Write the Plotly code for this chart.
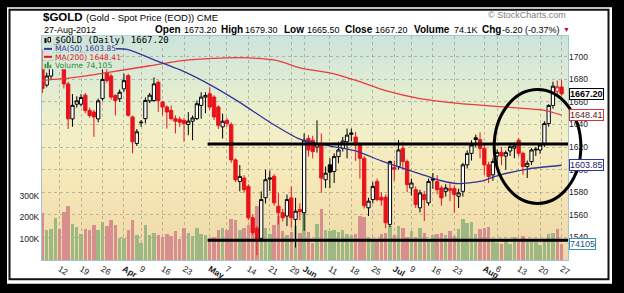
import pandas as pd
import plotly.graph_objects as go

# ---------------- data ----------------
HOLIDAYS = ["2012-04-06", "2012-05-28", "2012-07-04"]
trade_dates = [d for d in pd.bdate_range("2012-03-06", "2012-08-27")
               if d.strftime("%Y-%m-%d") not in HOLIDAYS]

opens = [1705, 1675, 1683, 1698, 1711, 1700, 1676, 1645, 1658, 1658,
         1666, 1652.5, 1651, 1645, 1663, 1686, 1683, 1665.7, 1662.8, 1671.6,
         1683.3, 1646.7, 1623.2, 1641.5, 1645.2, 1661, 1661.3, 1677.4, 1659.9, 1655.5,
         1652.5, 1645.2, 1644.6, 1643.7, 1640, 1642.9, 1645.2, 1657, 1664.3, 1667.2,
         1664.3, 1655.5, 1637.9, 1643.7, 1639.9, 1608.6, 1589.5, 1592.5, 1585.1, 1557.3,
         1548, 1539, 1575, 1591.5, 1594, 1567.5, 1561.7, 1558.8, 1574.9, 1555.8,
         1564.6, 1561.7, 1627.6, 1626, 1620, 1621.7, 1591, 1604.2, 1598.3, 1611.5,
         1618.8, 1624.7, 1632.5, 1628.8, 1621.8, 1610, 1566.1, 1573.4, 1589.5, 1575.5,
         1575.5, 1551.4, 1601.8, 1602.7, 1618.8, 1607.1, 1583.7, 1582.2, 1566.1, 1577.8,
         1570.5, 1591.9, 1589.5, 1583.7, 1580.7, 1581.3, 1583.1, 1576.3, 1580.7, 1604.2,
         1614.4, 1628.2, 1626.7, 1618.8, 1604.2, 1595.4, 1612, 1615.3, 1612, 1616.5,
         1619, 1626, 1614.4, 1602.7, 1607.1, 1617.4, 1617.4, 1623.2, 1640.8, 1656.9,
         1669.5, 1673.2]
highs = [1707, 1686, 1700, 1715, 1713, 1702, 1678, 1667, 1665, 1667,
         1668, 1655, 1653, 1663, 1689, 1691, 1685, 1667, 1671, 1685,
         1685, 1648, 1636, 1644, 1664, 1668, 1681.8, 1679, 1661, 1657,
         1657, 1648.1, 1647, 1646, 1651, 1648, 1661.3, 1668.6, 1668.6, 1673,
         1666, 1657, 1649.6, 1646, 1642, 1610, 1604, 1595, 1587, 1560,
         1550, 1580.7, 1599.8, 1599, 1596, 1579.3, 1565, 1577.8, 1585.1, 1574.9,
         1570, 1632, 1630.6, 1630, 1643.7, 1632, 1602.7, 1610, 1614.4, 1624.7,
         1629, 1636.4, 1636.4, 1633.5, 1624, 1612, 1575, 1589, 1592, 1580,
         1578, 1608, 1608, 1626.2, 1624.7, 1609, 1592, 1585, 1582, 1581,
         1592, 1597, 1595, 1586, 1587, 1588, 1586, 1583, 1606, 1617,
         1626, 1631, 1633, 1621.8, 1607, 1610, 1618, 1620, 1617, 1624,
         1624, 1628, 1616, 1608, 1619, 1620, 1623, 1643, 1658, 1678,
         1679, 1679.3]
lows = [1668, 1673, 1680, 1692, 1695, 1672, 1636, 1638, 1655, 1656,
        1650, 1646, 1629, 1642, 1661, 1677, 1662, 1648, 1660, 1669,
        1647, 1614.4, 1621, 1638, 1641, 1659, 1659.9, 1651.1, 1648.1, 1636.4,
        1643.7, 1632, 1637.9, 1624.7, 1630.5, 1626, 1644, 1645.2, 1650, 1653,
        1644, 1636, 1627.6, 1638, 1606, 1589, 1580.7, 1579.3, 1555, 1542,
        1524, 1536, 1570, 1581, 1568, 1551.4, 1554, 1549.9, 1548.5, 1530.9,
        1555, 1545.6, 1611.5, 1610, 1615, 1579.3, 1583.7, 1583.7, 1588.1, 1605.6,
        1616, 1610, 1625, 1607.7, 1592, 1565.5, 1558.8, 1570, 1572, 1568,
        1548, 1549, 1590, 1600, 1600, 1580, 1577, 1566, 1562, 1554.4,
        1568, 1583, 1578, 1568, 1576, 1572, 1561.7, 1566, 1576, 1601,
        1608, 1620, 1610, 1595.4, 1588, 1590, 1605, 1604, 1600, 1612,
        1610, 1612, 1595.4, 1592.5, 1604, 1612, 1614, 1620, 1638, 1654,
        1666, 1665.5]
closes = [1672, 1683, 1698, 1711, 1700, 1676, 1645, 1657, 1661, 1664,
          1652.5, 1648, 1646.7, 1661, 1680, 1679, 1664.3, 1661.3, 1668.6, 1678.9,
          1648.1, 1624.7, 1633.5, 1642, 1661.3, 1666, 1676, 1661.3, 1655.5, 1651.1,
          1645.2, 1642.9, 1642, 1640.8, 1643, 1645.8, 1658.4, 1664.3, 1665.7, 1655.5,
          1646.7, 1639.3, 1642.9, 1640.8, 1608.6, 1591, 1594, 1582.2, 1557.3, 1544.1,
          1538, 1573.4, 1591, 1592.5, 1570.5, 1561.7, 1557.3, 1573.4, 1557.3, 1563.1,
          1562.5, 1626, 1617.4, 1616, 1623, 1592.5, 1596.8, 1597.7, 1611.5, 1617.4,
          1625.3, 1630.6, 1631.4, 1621.8, 1610, 1568, 1572, 1585.1, 1573.4, 1573,
          1552.9, 1607.1, 1600.4, 1617.4, 1607.1, 1586.6, 1588.1, 1569, 1579.3, 1573.4,
          1589.5, 1590.7, 1582.2, 1574.9, 1583.7, 1583.1, 1577.8, 1579.3, 1604.2, 1614.4,
          1621.8, 1626.7, 1618.8, 1604.2, 1593.9, 1607.1, 1615.3, 1612, 1615, 1620.3,
          1621, 1614.4, 1602.7, 1605.6, 1617.4, 1618, 1621.8, 1640.8, 1656.9, 1674,
          1673.4, 1667.2]
volume_k = [220, 142, 146, 196, 146, 223, 254, 170, 154, 119,
            146, 139, 162, 139, 177, 159, 185, 165, 103, 103,
            142, 185, 116, 77, 165, 118, 125, 118, 108, 120,
            112, 135, 100, 150, 128, 110, 150, 120, 118, 104,
            108, 138, 150, 140, 190, 185, 140, 150, 165, 200,
            250, 170, 150, 120, 165, 205, 135, 115, 130, 160,
            128, 285, 130, 78, 166, 239, 140, 135, 140, 131,
            138, 122, 115, 120, 205, 200, 105, 97, 100, 120,
            128, 160, 118, 158, 151, 105, 135, 105, 150, 128,
            100, 116, 120, 128, 118, 135, 113, 143, 189, 171,
            177, 120, 145, 151, 155, 92, 80, 75, 90, 75,
            105, 85, 110, 82, 97, 85, 72, 92, 120, 128,
            146, 74.105]

ma50_dates = ["2012-03-06", "2012-03-16", "2012-03-28", "2012-04-03", "2012-04-12",
              "2012-04-20", "2012-05-01", "2012-05-10", "2012-05-21", "2012-05-31",
              "2012-06-11", "2012-06-19", "2012-06-27", "2012-07-03", "2012-07-11",
              "2012-07-18", "2012-07-24", "2012-07-31", "2012-08-06", "2012-08-15",
              "2012-08-27"]
ma50_vals = [1697, 1703, 1707, 1706.5, 1697.4, 1688.6, 1675.4, 1659.6, 1642, 1627,
             1620.9, 1616.5, 1607.7, 1602.4, 1596.3, 1590.1, 1587.5, 1589.5, 1594.5,
             1600.5, 1603.85]
ma200_dates = ["2012-03-06", "2012-03-15", "2012-03-27", "2012-04-11", "2012-04-20",
               "2012-05-07", "2012-05-14", "2012-05-23", "2012-05-31", "2012-06-12",
               "2012-06-20", "2012-06-28", "2012-07-11", "2012-07-24", "2012-08-09",
               "2012-08-21", "2012-08-27"]
ma200_vals = [1679, 1681.5, 1686, 1692.1, 1696.5, 1699.1, 1699.1, 1696.5, 1690.3, 1685,
              1678, 1670.1, 1663, 1658.7, 1655.2, 1652.5, 1648.41]

tick_dates = ["2012-03-12", "2012-03-19", "2012-03-26", "2012-04-02", "2012-04-09",
              "2012-04-16", "2012-04-23", "2012-05-01", "2012-05-07", "2012-05-14",
              "2012-05-21", "2012-05-29", "2012-06-01", "2012-06-11", "2012-06-18",
              "2012-06-25", "2012-07-02", "2012-07-09", "2012-07-16", "2012-07-23",
              "2012-08-01", "2012-08-06", "2012-08-13", "2012-08-20", "2012-08-27"]
tick_labels = ["12", "19", "26", "<b>Apr</b>", "9", "16", "23", "<b>May</b>", "7", "14",
               "21", "29", "<b>Jun</b>", "11", "18", "25", "<b>Jul</b>", "9", "16", "23",
               "<b>Aug</b>", "6", "13", "20", "27"]
price_ticks = [1540, 1560, 1580, 1600, 1620, 1640, 1660, 1680, 1700]
volume_ticks = [100, 200, 300]
volume_tick_labels = ["100K", "200K", "300K"]

# hand-drawn annotations (in data terms)
resistance_level = 1622.6
support_level = 1537.4
lines_start_date = "2012-05-01"
circle_dates = ("2012-08-03", "2012-08-27")
circle_x_pad = (0.3, 4.5)   # bars beyond the given dates
circle_prices = (1570, 1671)

# ---------------- layout constants ----------------
W, H = 624, 293
ML, MR, MT, MB = 42, 56, 36, 31
PW, PH = W - ML - MR, H - MT - MB
X_RANGE = [-0.1, 122.5]
P_RANGE = [1519.8, 1718.5]
V_RANGE = [0, 1044]

FONT = "Liberation Sans, Arial, sans-serif"
RED = "#e8131b"
BLUE = "#34349c"
VOL_GREEN = "#9db882"
VOL_RED = "#d78e8e"

date_str = [d.strftime("%Y-%m-%d") for d in trade_dates]
pos = {s: i for i, s in enumerate(date_str)}
idx = list(range(len(trade_dates)))


def xp(px):
    return (px - ML) / PW


def yp(py):
    return 1 - (py - MT) / PH


def data_x_paper(v):
    return (v - X_RANGE[0]) / (X_RANGE[1] - X_RANGE[0])


def data_p_paper(v):
    return (v - P_RANGE[0]) / (P_RANGE[1] - P_RANGE[0])


# gradient
STOPS = [(0.0, (204, 228, 220)), (0.22, (224, 236, 210)), (0.42, (242, 239, 199)),
         (0.62, (246, 233, 185)), (1.0, (238, 215, 166))]


def grad(f):
    for (f0, c0), (f1, c1) in zip(STOPS[:-1], STOPS[1:]):
        if f0 <= f <= f1:
            t = (f - f0) / (f1 - f0)
            c = [round(a + (b - a) * t) for a, b in zip(c0, c1)]
            return "rgb(%d,%d,%d)" % tuple(c)
    return "rgb(%d,%d,%d)" % STOPS[-1][1]


fig = go.Figure()

# volume
prev_close = [opens[0]] + closes[:-1]
up = [c >= p for c, p in zip(closes, prev_close)]
fig.add_trace(go.Bar(x=idx, y=volume_k, width=0.8,
                     marker=dict(color=[VOL_GREEN if u else VOL_RED for u in up], line=dict(width=0)),
                     yaxis="y", hoverinfo="skip", showlegend=False))


def sel(arr, mask):
    return [a if m else None for a, m in zip(arr, mask)]


down = [not u for u in up]
fig.add_trace(go.Candlestick(
    x=idx, open=sel(opens, up), high=sel(highs, up), low=sel(lows, up), close=sel(closes, up),
    increasing=dict(line=dict(color="black", width=1), fillcolor="white"),
    decreasing=dict(line=dict(color="black", width=1), fillcolor="black"),
    whiskerwidth=0, yaxis="y2", hoverinfo="skip", showlegend=False))
fig.add_trace(go.Candlestick(
    x=idx, open=sel(opens, down), high=sel(highs, down), low=sel(lows, down), close=sel(closes, down),
    increasing=dict(line=dict(color=RED, width=1), fillcolor="white"),
    decreasing=dict(line=dict(color=RED, width=1), fillcolor=RED),
    whiskerwidth=0, yaxis="y2", hoverinfo="skip", showlegend=False))

fig.add_trace(go.Scatter(x=[pos[d] for d in ma200_dates], y=ma200_vals, mode="lines",
                         line=dict(color="#ee3a3a", width=1.3, shape="spline", smoothing=0.6),
                         yaxis="y2", hoverinfo="skip", showlegend=False))
fig.add_trace(go.Scatter(x=[pos[d] for d in ma50_dates], y=ma50_vals, mode="lines",
                         line=dict(color=BLUE, width=1.3, shape="spline", smoothing=0.6),
                         yaxis="y2", hoverinfo="skip", showlegend=False))

shapes = []
# frame
shapes.append(dict(type="rect", xref="paper", yref="paper", x0=xp(7), x1=xp(612), y0=yp(286), y1=yp(7),
                   fillcolor="white", line=dict(width=0), layer="below"))
shapes.append(dict(type="rect", xref="paper", yref="paper", x0=xp(9.5), x1=xp(608.5), y0=yp(281.5), y1=yp(9.5),
                   fillcolor="white", line=dict(color="#111", width=2), layer="below"))
# plot background gradient
N = 57
for k in range(N):
    y0 = MT + k * PH / N
    y1 = MT + (k + 1) * PH / N + 0.6
    shapes.append(dict(type="rect", xref="paper", yref="paper", x0=0, x1=1, y0=yp(min(y1, MT + PH)), y1=yp(y0),
                       fillcolor=grad((k + 0.5) / N), line=dict(width=0), layer="below"))

# drawn support / resistance lines
x_start = pos[lines_start_date] - 0.5
for lvl in (resistance_level, support_level):
    shapes.append(dict(type="line", xref="x", yref="y2", x0=x_start, x1=X_RANGE[1], y0=lvl, y1=lvl,
                       line=dict(color="black", width=3), layer="above"))
# ellipse
cx0 = data_x_paper(pos[circle_dates[0]] + circle_x_pad[0])
cx1 = data_x_paper(pos[circle_dates[1]] + circle_x_pad[1])
shapes.append(dict(type="circle", xref="paper", yref="paper", x0=cx0, x1=cx1,
                   y0=data_p_paper(circle_prices[0]), y1=data_p_paper(circle_prices[1]),
                   line=dict(color="black", width=3), layer="above"))

# legend backgrounds and icons
legend_rows = [(35.5, 44.5, 168), (44.5, 53, 116), (53, 61, 118), (61, 69.5, 112)]
for (a, b, r) in legend_rows:
    shapes.append(dict(type="rect", xref="paper", yref="paper", x0=xp(42.5), x1=xp(r), y0=yp(b), y1=yp(a),
                       fillcolor=grad(((a + b) / 2 - MT) / PH), line=dict(width=0), layer="above"))
shapes.append(dict(type="line", xref="paper", yref="paper", x0=xp(44), x1=xp(52), y0=yp(49), y1=yp(49),
                   line=dict(color=BLUE, width=2), layer="above"))
shapes.append(dict(type="line", xref="paper", yref="paper", x0=xp(44), x1=xp(52), y0=yp(57), y1=yp(57),
                   line=dict(color=RED, width=2), layer="above"))
for (bx, bt) in [(44.5, 64), (47, 62), (49.5, 65)]:
    shapes.append(dict(type="rect", xref="paper", yref="paper", x0=xp(bx), x1=xp(bx + 1.8), y0=yp(68.5), y1=yp(bt),
                       fillcolor="#3f8f3f", line=dict(width=0), layer="above"))
shapes.append(dict(type="rect", xref="paper", yref="paper", x0=xp(44.5), x1=xp(46.5), y0=yp(43), y1=yp(38),
                   fillcolor="black", line=dict(width=0), layer="above"))
shapes.append(dict(type="rect", xref="paper", yref="paper", x0=xp(48), x1=xp(50.5), y0=yp(42), y1=yp(37.5),
                   fillcolor="white", line=dict(color="black", width=1), layer="above"))

ann = []


def txt(px, py, text, size=9, color="black", family=FONT, anchor="left"):
    ann.append(dict(xref="paper", yref="paper", x=xp(px), y=yp(py), text=text, showarrow=False,
                    xanchor=anchor, yanchor="middle", font=dict(size=size, color=color, family=family)))


last = len(closes) - 1
chg = closes[last] - closes[last - 1]
txt(41, 17, "<b>$GOLD</b>", size=11.5)
txt(84, 17.5, "(Gold - Spot Price (EOD)) CME", size=9.5)
txt(42, 29.5, trade_dates[last].strftime("%d-%b-%Y"), size=9)
txt(568, 15, "© StockCharts.com", size=9, color="#808080", anchor="right")
items = [(153, "<b>Open</b>", 10), (182, "%.2f" % opens[last], 9), (219, "<b>High</b>", 10),
         (243, "%.2f" % highs[last], 9), (282, "<b>Low</b>", 10), (305, "%.2f" % lows[last], 9),
         (343, "<b>Close</b>", 10), (373, "%.2f" % closes[last], 9), (412, "<b>Volume</b>", 10),
         (452, "%.1fK" % volume_k[last], 9), (480, "<b>Chg</b>", 10),
         (500, "%.2f (%.2f%%)" % (chg, chg / closes[last - 1] * 100), 9)]
for px, t, s in items:
    txt(px, 29.5, t, size=s)
txt(561, 29.5, "▼", size=7, color="#c0102a")

MONO = "DejaVu Sans Mono, monospace"
LEG = "DejaVu Sans, Verdana, sans-serif"
txt(53, 40, "$GOLD (Daily) %.2f" % closes[last], size=9, family=MONO)
txt(53, 49, "MA(50) %.2f" % ma50_vals[-1], size=7.6, color=BLUE, family=LEG)
txt(53, 57.3, "MA(200) %.2f" % ma200_vals[-1], size=7.6, color="#e01818", family=LEG)
txt(53, 65.5, "Volume {:,}".format(int(round(volume_k[last] * 1000))), size=7.6, color="#2f8a2f", family=LEG)

# right value tags
for val, ref, col, tcol, label in [
        (closes[last], "y2", "black", "black", "<b>%.2f</b>" % closes[last]),
        (ma200_vals[-1], "y2", "#e03030", "#552020", "%.2f" % ma200_vals[-1]),
        (ma50_vals[-1], "y2", "#3030a0", "#202060", "%.2f" % ma50_vals[-1]),
        (volume_k[last], "y", "#3b8fb3", "#1d4f80", "%d" % round(volume_k[last] * 1000))]:
    ann.append(dict(xref="paper", yref=ref, x=1, y=val, xanchor="left", yanchor="middle", xshift=1,
                    text=label, showarrow=False, bgcolor="white", bordercolor=col, borderwidth=1, borderpad=0,
                    font=dict(size=9, color=tcol, family=FONT)))

GRID = "rgba(120,120,120,0.45)"
fig.update_layout(
    width=W, height=H, margin=dict(l=ML, r=MR, t=MT, b=MB),
    paper_bgcolor="black", plot_bgcolor="rgba(0,0,0,0)",
    boxgap=0.15, boxgroupgap=0.1, bargap=0,
    shapes=shapes, annotations=ann, showlegend=False,
    font=dict(family=FONT, size=9, color="#222"),
    xaxis=dict(range=X_RANGE, tickvals=[pos[d] for d in tick_dates], ticktext=tick_labels,
               showgrid=True, gridcolor=GRID, griddash="dot", gridwidth=1, ticks="",
               tickfont=dict(size=8.5, color="#222"), showline=True, linecolor="#a4c4d4", mirror=True,
               zeroline=False, rangeslider=dict(visible=False), fixedrange=True),
    yaxis=dict(range=V_RANGE, tickvals=volume_ticks, ticktext=volume_tick_labels, side="left",
               showgrid=False, zeroline=False, ticks="", tickfont=dict(size=8.5, color="#222"),
               showline=True, linecolor="#a4c4d4", mirror=True, fixedrange=True),
    yaxis2=dict(range=P_RANGE, tickvals=price_ticks, overlaying="y", side="right",
                showgrid=True, gridcolor=GRID, griddash="dot", gridwidth=1, zeroline=False, ticks="",
                tickfont=dict(size=8.5, color="#222"), showline=False, fixedrange=True),
)

fig.write_html("out.html")
